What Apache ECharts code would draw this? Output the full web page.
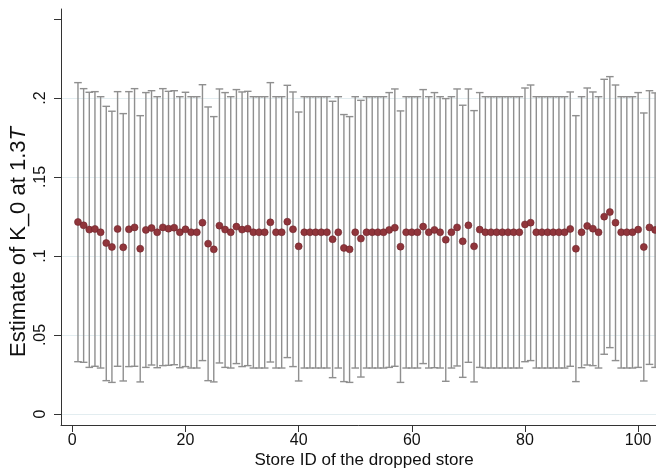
<!DOCTYPE html>
<html>
<head>
<meta charset="utf-8">
<script src="https://cdn.jsdelivr.net/npm/echarts@6/dist/echarts.min.js"></script>
<style>
  html, body { margin: 0; padding: 0; background: #ffffff; }
  #chart { width: 656px; height: 475px; }
</style>
</head>
<body>
<div id="chart"></div>
<script>
// Store dropped from the sample (x) and the resulting estimate with its confidence band
const storeIds = [
  1, 2, 3, 4, 5, 6, 7, 8, 9, 10, 11, 12, 13, 14, 15, 16, 17, 18, 19, 20,
  21, 22, 23, 24, 25, 26, 27, 28, 29, 30, 31, 32, 33, 34, 35, 36, 37, 38, 39, 40,
  41, 42, 43, 44, 45, 46, 47, 48, 49, 50, 51, 52, 53, 54, 55, 56, 57, 58, 59, 60,
  61, 62, 63, 64, 65, 66, 67, 68, 69, 70, 71, 72, 73, 74, 75, 76, 77, 78, 79, 80,
  81, 82, 83, 84, 85, 86, 87, 88, 89, 90, 91, 92, 93, 94, 95, 96, 97, 98, 99, 100,
  101, 102, 103
];

const estimate = [
  0.1215, 0.1194, 0.1167, 0.1171, 0.1150, 0.1082, 0.1057, 0.1171, 0.1055, 0.1169,
  0.1181, 0.1046, 0.1165, 0.1177, 0.1150, 0.1181, 0.1173, 0.1179, 0.1150, 0.1169,
  0.1150, 0.1150, 0.1211, 0.1078, 0.1042, 0.1192, 0.1167, 0.1150, 0.1186, 0.1167,
  0.1173, 0.1150, 0.1150, 0.1150, 0.1213, 0.1150, 0.1150, 0.1217, 0.1169, 0.1061,
  0.1150, 0.1150, 0.1150, 0.1150, 0.1150, 0.1106, 0.1150, 0.1051, 0.1042, 0.1150,
  0.1110, 0.1150, 0.1150, 0.1150, 0.1150, 0.1165, 0.1179, 0.1059, 0.1150, 0.1150,
  0.1150, 0.1186, 0.1150, 0.1165, 0.1150, 0.1103, 0.1150, 0.1181, 0.1093, 0.1194,
  0.1061, 0.1167, 0.1150, 0.1150, 0.1150, 0.1150, 0.1150, 0.1150, 0.1150, 0.1200,
  0.1211, 0.1150, 0.1150, 0.1150, 0.1150, 0.1150, 0.1150, 0.1171, 0.1046, 0.1150,
  0.1190, 0.1173, 0.1150, 0.1249, 0.1278, 0.1211, 0.1150, 0.1150, 0.1150, 0.1167,
  0.1057, 0.1181, 0.1165
];

const ciLow = [
  0.0331, 0.0327, 0.0295, 0.0302, 0.0291, 0.0211, 0.0200, 0.0302, 0.0209, 0.0300,
  0.0302, 0.0203, 0.0295, 0.0310, 0.0293, 0.0306, 0.0308, 0.0312, 0.0293, 0.0300,
  0.0291, 0.0291, 0.0338, 0.0211, 0.0203, 0.0323, 0.0295, 0.0291, 0.0319, 0.0300,
  0.0306, 0.0291, 0.0291, 0.0291, 0.0329, 0.0291, 0.0291, 0.0357, 0.0300, 0.0209,
  0.0291, 0.0291, 0.0291, 0.0291, 0.0291, 0.0230, 0.0291, 0.0205, 0.0200, 0.0291,
  0.0234, 0.0291, 0.0291, 0.0291, 0.0291, 0.0295, 0.0302, 0.0200, 0.0291, 0.0291,
  0.0291, 0.0319, 0.0291, 0.0293, 0.0291, 0.0207, 0.0291, 0.0304, 0.0232, 0.0327,
  0.0203, 0.0295, 0.0291, 0.0291, 0.0291, 0.0291, 0.0291, 0.0291, 0.0291, 0.0331,
  0.0338, 0.0291, 0.0291, 0.0291, 0.0291, 0.0291, 0.0291, 0.0302, 0.0205, 0.0293,
  0.0310, 0.0306, 0.0291, 0.0378, 0.0420, 0.0338, 0.0291, 0.0291, 0.0291, 0.0295,
  0.0209, 0.0314, 0.0295
];

const ciHigh = [
  0.2097, 0.2059, 0.2036, 0.2040, 0.2008, 0.1947, 0.1916, 0.2040, 0.1901, 0.2040,
  0.2059, 0.1888, 0.2034, 0.2046, 0.2008, 0.2059, 0.2042, 0.2046, 0.2008, 0.2036,
  0.2008, 0.2008, 0.2084, 0.1943, 0.1882, 0.2057, 0.2034, 0.2008, 0.2053, 0.2038,
  0.2042, 0.2008, 0.2008, 0.2008, 0.2097, 0.2008, 0.2008, 0.2080, 0.2038, 0.1911,
  0.2008, 0.2008, 0.2008, 0.2008, 0.2008, 0.1979, 0.2008, 0.1895, 0.1882, 0.2008,
  0.1985, 0.2008, 0.2008, 0.2008, 0.2008, 0.2034, 0.2057, 0.1918, 0.2008, 0.2008,
  0.2008, 0.2053, 0.2008, 0.2034, 0.2008, 0.1996, 0.2008, 0.2057, 0.1954, 0.2057,
  0.1920, 0.2034, 0.2008, 0.2008, 0.2008, 0.2008, 0.2008, 0.2008, 0.2008, 0.2063,
  0.2082, 0.2008, 0.2008, 0.2008, 0.2008, 0.2008, 0.2008, 0.2038, 0.1888, 0.2008,
  0.2063, 0.2038, 0.2008, 0.2118, 0.2135, 0.2082, 0.2008, 0.2008, 0.2008, 0.2034,
  0.1905, 0.2046, 0.2032
];

// Axis ticks
const xTicks = [0, 20, 40, 60, 80, 100];
const yTicks = [0, 0.05, 0.1, 0.15, 0.2, 0.25];
const yTickLabels = ['0', '.05', '.1', '.15', '.2'];

const FONT = "'Liberation Sans', Arial, Helvetica, sans-serif";
const BAR_COLOR = '#8f8f8f';
const MARKER_COLOR = '#90353b';
const GRID_COLOR = '#e3edf0';
const AXIS_COLOR = '#333333';
const TEXT_COLOR = '#111111';

const barData = storeIds.map((id, i) => [id, ciLow[i], ciHigh[i]]);
const pointData = storeIds.map((id, i) => [id, estimate[i]]);

const chart = echarts.init(document.getElementById('chart'), null, { renderer: 'canvas' });

chart.setOption({
  backgroundColor: '#ffffff',
  animation: false,
  // the plot region runs a little past the right edge of the canvas
  grid: {
    left: 61, right: -11, top: 9, bottom: 50,
    containLabel: false,
    outerBoundsMode: 'none'
  },
  xAxis: {
    type: 'value',
    min: -2,
    max: 105.1,
    name: 'Store ID of the dropped store',
    nameLocation: 'middle',
    nameGap: 27,
    nameMoveOverlap: false,
    nameTextStyle: { fontFamily: FONT, fontSize: 17, color: TEXT_COLOR },
    axisLine: { show: true, onZero: false, lineStyle: { color: AXIS_COLOR, width: 1 } },
    axisTick: { show: true, length: 7, customValues: xTicks, lineStyle: { color: AXIS_COLOR, width: 1 } },
    axisLabel: {
      customValues: xTicks,
      margin: 8,
      fontFamily: FONT, fontSize: 16, color: TEXT_COLOR,
      formatter: v => String(v)
    },
    splitLine: { show: false }
  },
  yAxis: {
    type: 'value',
    min: -0.00696,
    max: 0.2563,
    name: '{a|Estimate of K_0 at 1.3}{i|T}',
    nameLocation: 'middle',
    nameGap: 31,
    nameMoveOverlap: false,
    nameTextStyle: {
      fontFamily: FONT, fontSize: 22, color: TEXT_COLOR,
      padding: [0, 50, 0, 0],
      rich: {
        a: { fontFamily: FONT, fontSize: 22, color: TEXT_COLOR },
        i: { fontFamily: FONT, fontSize: 22, color: TEXT_COLOR, fontStyle: 'italic' }
      }
    },
    axisLine: { show: true, onZero: false, lineStyle: { color: AXIS_COLOR, width: 1 } },
    axisTick: { show: true, length: 7, customValues: yTicks, lineStyle: { color: AXIS_COLOR, width: 1 } },
    axisLabel: {
      customValues: yTicks.slice(0, yTickLabels.length),
      rotate: 90,
      margin: 12,
      fontFamily: FONT, fontSize: 16, color: TEXT_COLOR,
      formatter: v => {
        const k = yTicks.findIndex(t => Math.abs(t - v) < 1e-9);
        return k >= 0 && k < yTickLabels.length ? yTickLabels[k] : '';
      }
    },
    splitLine: {
      show: true,
      lineStyle: {
        width: 1,
        // one colour per tick line; the top tick carries no grid line
        color: [GRID_COLOR, GRID_COLOR, GRID_COLOR, GRID_COLOR, GRID_COLOR, 'rgba(0,0,0,0)']
      }
    }
  },
  series: [
    {
      type: 'custom',
      name: 'CI',
      data: barData,
      encode: { x: 0, y: [1, 2] },
      clip: false,
      z: 2,
      renderItem: (params, api) => {
        const x = api.value(0);
        const lo = api.coord([x, api.value(1)]);
        const hi = api.coord([x, api.value(2)]);
        const half = 3.8;
        const style = { stroke: BAR_COLOR, lineWidth: 1.4 };
        return {
          type: 'group',
          children: [
            { type: 'line', shape: { x1: hi[0], y1: hi[1], x2: lo[0], y2: lo[1] }, style },
            { type: 'line', shape: { x1: hi[0] - half, y1: hi[1], x2: hi[0] + half, y2: hi[1] }, style },
            { type: 'line', shape: { x1: lo[0] - half, y1: lo[1], x2: lo[0] + half, y2: lo[1] }, style }
          ]
        };
      }
    },
    {
      type: 'scatter',
      name: 'Estimate',
      data: pointData,
      symbol: 'circle',
      symbolSize: 7,
      clip: false,
      z: 3,
      itemStyle: { color: MARKER_COLOR, borderColor: '#6f252b', borderWidth: 0.6, opacity: 1 }
    }
  ]
});
</script>
</body>
</html>
